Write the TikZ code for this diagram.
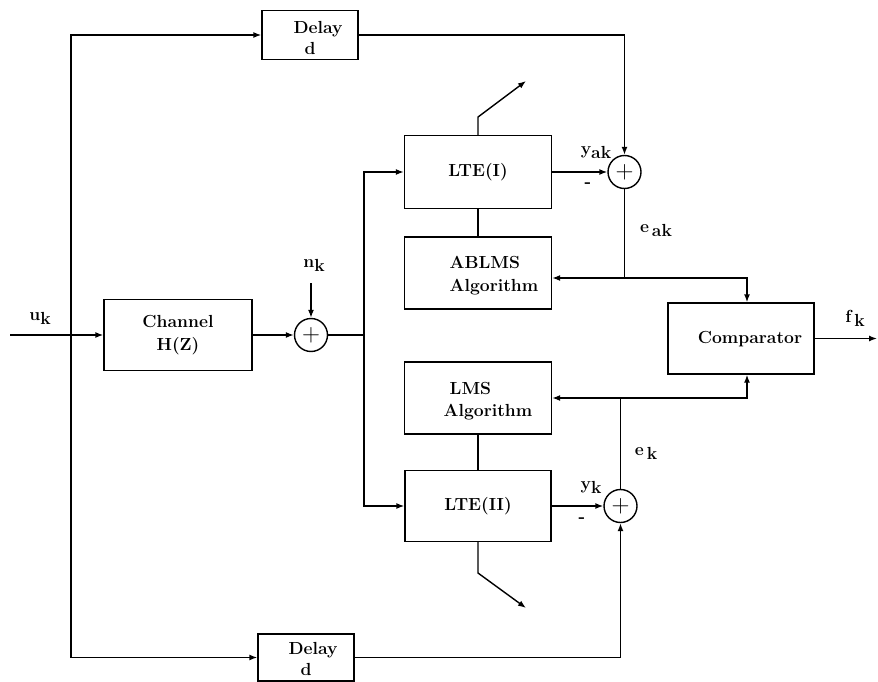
\documentclass[tikz,border=0pt]{standalone}
\usetikzlibrary{arrows.meta}
\newcommand{\sbk}[2]{#1\raisebox{-4pt}{#2}}
\begin{document}
\begin{tikzpicture}[x=1pt,y=-1pt,line width=1.4pt,
  font=\fontsize{17.5}{21}\selectfont\bfseries,
  arr/.style={-{Latex[length=8pt,width=6pt]}},
  blk/.style={draw,rectangle,inner sep=0pt,minimum width=#1},
  sumc/.style={draw,circle,minimum size=33pt,inner sep=0pt,font=\fontsize{24}{24}\selectfont},
  lbl/.style={inner sep=0pt}]
\useasboundingbox (0,0) rectangle (878,682);
% blocks
\node[blk=96pt,minimum height=49pt] (d1) at (310,35) {};
\node[lbl] (d1a) at (318,29) {Delay};
\node[lbl] (d1b) at (310,48) {d};
\node[blk=96pt,minimum height=47pt] (d2) at (306,657.5) {};
\node[lbl] (d2a) at (313,650) {Delay};
\node[lbl] (d2b) at (306,669) {d};
\node[blk=148pt,minimum height=71pt,align=center] (ch) at (178,335) {Channel\\[2pt]H(Z)};
\node[blk=147pt,minimum height=73pt] (lte1) at (478,172) {LTE(I)};
\node[blk=147pt,minimum height=72pt] (abl) at (478,273) {};
\node[lbl,anchor=west] (abla) at (449,262) {ABLMS};
\node[lbl,anchor=west] (ablb) at (449,287) {Algorithm};
\node[blk=147pt,minimum height=72pt] (lms) at (478,398) {};
\node[lbl,anchor=west] (lmsa) at (449,388) {LMS};
\node[lbl,anchor=west] (lmsb) at (443,412) {Algorithm};
\node[blk=146pt,minimum height=71pt] (lte2) at (478,506) {LTE(II)};
\node[blk=146pt,minimum height=71pt] (cmp) at (741,338.5) {};
\node[lbl] (cmpt) at (750,339) {Comparator};
% summing junctions
\node[sumc] (s0) at (311,335) {$+$};
\node[sumc] (s1) at (624.5,172) {$+$};
\node[sumc] (s2) at (620.5,506) {$+$};
% coordinates
\coordinate (in) at (10,335);
\coordinate (j0) at (71,335);
\coordinate (nk) at (311,283);
\coordinate (bus) at (364,335);
\coordinate (fb1) at (624.5,278);
\coordinate (fb2) at (620.5,398);
\coordinate (out) at (877,338.5);
\coordinate (ant1a) at (478,117);
\coordinate (ant1b) at (526,81);
\coordinate (ant2a) at (478,573);
\coordinate (ant2b) at (526,608);
% connectors
\draw[arr] (in) -- (ch.west);
\draw[arr] (j0) |- (d1.west);
\draw[arr] (j0) |- (d2.west);
\draw[arr] (d1.east) -| (s1.north);
\draw[arr] (d2.east) -| (s2.south);
\draw[arr] (ch.east) -- (s0.west);
\draw[arr] (nk) -- (s0.north);
\draw (s0.east) -- (bus);
\draw[arr] (bus) |- (lte1.west);
\draw[arr] (bus) |- (lte2.west);
\draw[arr] (lte1.east) -- (s1.west);
\draw[arr] (lte2.east) -- (s2.west);
\draw (s1.south) -- (fb1);
\draw[arr] (fb1) -- (fb1 -| abl.east);
\draw[arr] (fb1) -| ([xshift=6pt]cmp.north);
\draw (s2.north) -- (fb2);
\draw[arr] (fb2) -- (fb2 -| lms.east);
\draw[arr] (fb2) -| ([xshift=6pt]cmp.south);
\draw[arr] (cmp.east) -- (out);
\draw (lte1.south) -- (abl.north);
\draw (lms.south) -- (lte2.north);
\draw[arr] (lte1.north) -- (ant1a) -- (ant1b);
\draw[arr] (lte2.south) -- (ant2a) -- (ant2b);
% labels
\node[lbl] (uk) at (40,318) {\sbk{u}{k}};
\node[lbl] (nkl) at (314,265) {\sbk{n}{k}};
\node[lbl] (yak) at (596,152) {\sbk{y}{ak}};
\node[lbl] (m1) at (588,185) {-};
\node[lbl] (eak) at (656,230) {\sbk{e}{\,ak}};
\node[lbl] (yk) at (591,487) {\sbk{y}{k}};
\node[lbl] (m2) at (582,520) {-};
\node[lbl] (ek) at (646,453) {\sbk{e}{\,k}};
\node[lbl] (fk) at (855,318) {\sbk{f}{\,k}};
\end{tikzpicture}
\end{document}
